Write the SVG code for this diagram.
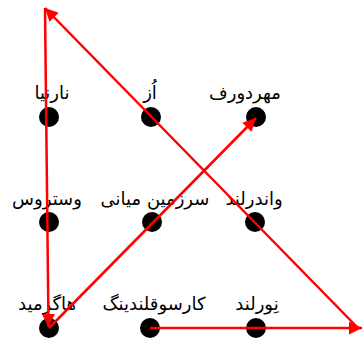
<svg xmlns="http://www.w3.org/2000/svg" width="363" height="340" viewBox="0 0 363 340">
  <style>
    .dot { fill: #000; }
    .lbl { font-family: "DejaVu Sans", "Noto Sans", sans-serif; font-size: 18px; fill: #000; text-anchor: middle; direction: rtl; }
    .edge { stroke: #ff0000; stroke-width: 2.5; fill: none; }
  </style>
  <defs>
    <marker id="arrow" viewBox="0 0 10 10" refX="10" refY="5" markerWidth="6.4" markerHeight="5.2" orient="auto" markerUnits="strokeWidth">
      <path d="M0,0 L10,5 L0,10 z" fill="#ff0000"/>
    </marker>
  </defs>

  <!-- row 1 -->
  <g id="narnia"><circle class="dot" cx="49" cy="117" r="10"/><text class="lbl" x="52" y="99">نارنیا</text></g>
  <g id="oz"><circle class="dot" cx="151" cy="117" r="10"/><text class="lbl" x="150" y="99">اُز</text></g>
  <g id="mehrdorf"><circle class="dot" cx="256" cy="117" r="10"/><text class="lbl" x="245" y="99">مهردورف</text></g>

  <!-- row 2 -->
  <g id="westeros"><circle class="dot" cx="49" cy="222" r="10"/><text class="lbl" x="47" y="205">وستروس</text></g>
  <g id="middle-earth"><circle class="dot" cx="152" cy="222" r="10"/><text class="lbl" x="155" y="205">سرزمین میانی</text></g>
  <g id="wonderland"><circle class="dot" cx="255" cy="222" r="10"/><text class="lbl" x="254" y="205">واندرلند</text></g>

  <!-- row 3 -->
  <g id="hogsmeade"><circle class="dot" cx="49" cy="328" r="10"/><text class="lbl" x="47" y="310">هاگزمید</text></g>
  <g id="landing"><circle class="dot" cx="150" cy="328" r="10"/><text class="lbl" x="154" y="310">کارسوقلندینگ</text></g>
  <g id="neverland"><circle class="dot" cx="256" cy="328" r="10"/><text class="lbl" x="257" y="310">نِورلند</text></g>

  <!-- connectors -->
  <g id="connectors">
    <line class="edge" x1="45" y1="8" x2="48.5" y2="327" marker-end="url(#arrow)"/>
    <line class="edge" x1="49" y1="328" x2="256" y2="118" marker-end="url(#arrow)"/>
    <line class="edge" x1="150" y1="328" x2="362" y2="328" marker-end="url(#arrow)"/>
    <line class="edge" x1="358" y1="328" x2="45" y2="8" marker-end="url(#arrow)"/>
  </g>
</svg>
